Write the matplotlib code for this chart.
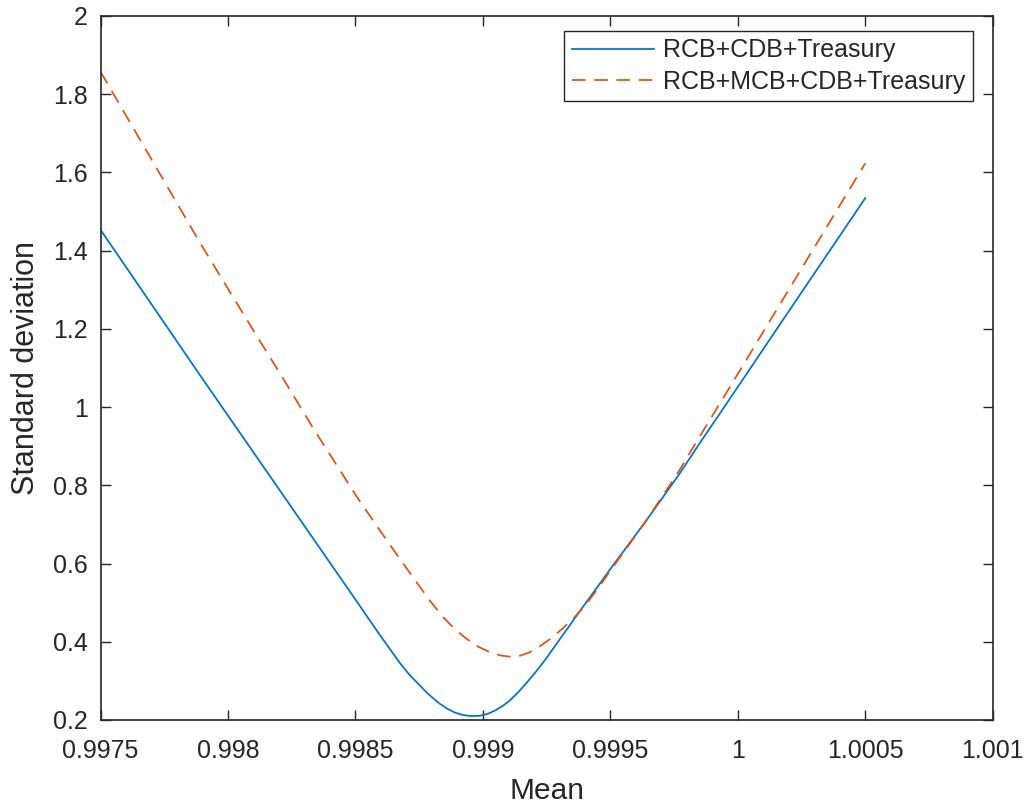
import matplotlib
matplotlib.use("Agg")
import matplotlib.pyplot as plt

plt.rcParams['font.family'] = ['Liberation Sans', 'DejaVu Sans']

# Data
mean_rcb_cdb = [0.9975, 0.997898, 0.9985, 0.998595, 0.998674, 0.99871, 0.99875,
                0.99878, 0.998804, 0.99883, 0.99886, 0.99889, 0.99892, 0.998954,
                0.99899, 0.99902, 0.99905, 0.99908, 0.999104, 0.99914, 0.99917,
                0.99921, 0.999248, 0.9993, 0.999378, 0.999508, 0.999639,
                0.999769, 0.999847, 0.999952, 1.000239, 1.0005]
std_rcb_cdb = [1.453, 1.074, 0.508, 0.418, 0.346, 0.317, 0.29,
               0.27, 0.256, 0.242, 0.229, 0.219, 0.213, 0.21,
               0.211, 0.216, 0.225, 0.237, 0.249, 0.272, 0.294,
               0.325, 0.357, 0.405, 0.476, 0.593, 0.708,
               0.827, 0.904, 1.005, 1.2825, 1.534]

mean_rcb_mcb_cdb = [0.9975, 0.997891, 0.998106, 0.998204, 0.998335, 0.998504,
                    0.99859, 0.998674, 0.99874, 0.998791, 0.99884, 0.99889,
                    0.998935, 0.99898, 0.999025, 0.99907, 0.999104, 0.99914,
                    0.99918, 0.999225, 0.99927, 0.999313, 0.99936, 0.999404,
                    0.99945, 0.999508, 0.999639, 0.999769, 0.999847, 0.999952,
                    1.000239, 1.0005]
std_rcb_mcb_cdb = [1.857, 1.419, 1.189, 1.086, 0.945, 0.772,
                   0.69, 0.612, 0.552, 0.506, 0.466, 0.432,
                   0.408, 0.388, 0.374, 0.365, 0.362, 0.363,
                   0.372, 0.389, 0.41, 0.434, 0.463, 0.495,
                   0.535, 0.589, 0.708, 0.836, 0.921, 1.033,
                   1.342, 1.623]

series_labels = ['RCB+CDB+Treasury', 'RCB+MCB+CDB+Treasury']
x_ticks = [0.9975, 0.998, 0.9985, 0.999, 0.9995, 1.0, 1.0005, 1.001]
x_tick_labels = ['0.9975', '0.998', '0.9985', '0.999', '0.9995', '1', '1.0005', '1.001']
y_ticks = [0.2, 0.4, 0.6, 0.8, 1.0, 1.2, 1.4, 1.6, 1.8, 2.0]
y_tick_labels = ['0.2', '0.4', '0.6', '0.8', '1', '1.2', '1.4', '1.6', '1.8', '2']

dark = '#262626'
blue = (0.0, 0.447, 0.741)
orange = (0.85, 0.325, 0.098)

fig = plt.figure(figsize=(10.30, 8.06), dpi=100)
ax = fig.add_axes([0.0976, 0.1067, 0.9638 - 0.0976, 0.9804 - 0.1067])

ax.plot(mean_rcb_cdb, std_rcb_cdb, color=blue, lw=1.25, label=series_labels[0])
ax.plot(mean_rcb_mcb_cdb, std_rcb_mcb_cdb, color=orange, lw=1.25,
        linestyle=(0, (7.8, 5.0)), label=series_labels[1])

ax.set_xlim(x_ticks[0], x_ticks[-1])
ax.set_ylim(y_ticks[0], y_ticks[-1])
ax.set_xticks(x_ticks)
ax.set_xticklabels(x_tick_labels)
ax.set_yticks(y_ticks)
ax.set_yticklabels(y_tick_labels)

ax.tick_params(direction='in', length=7, width=1.0, color=dark, labelcolor=dark,
               labelsize=18, top=True, right=True)
ax.tick_params(axis='x', pad=14)
ax.tick_params(axis='y', pad=9)
for s in ax.spines.values():
    s.set_color(dark)
    s.set_linewidth(1.2)

ax.set_xlabel('Mean', fontsize=21.5, color=dark, labelpad=10)
ax.set_ylabel('Standard deviation', fontsize=22, color=dark, labelpad=8.5)

leg = ax.legend(loc='upper right', bbox_to_anchor=(0.9776, 0.9787), borderaxespad=0,
                fontsize=18, fancybox=False, framealpha=1, edgecolor=dark,
                handlelength=3.3, handletextpad=0.35, labelspacing=0.3,
                borderpad=0.3)
leg.get_frame().set_linewidth(1.0)
for t in leg.get_texts():
    t.set_color(dark)

fig.savefig('out.png', dpi=100)
